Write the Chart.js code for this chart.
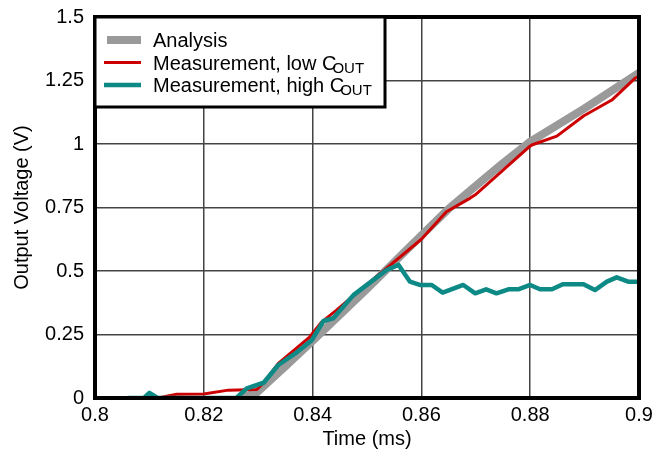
<!DOCTYPE html>
<html>
<head>
<meta charset="utf-8">
<script src="https://cdn.jsdelivr.net/npm/chart.js@4"></script>
<style>
  body { margin: 0; background: #fff; }
  #wrap { width: 663px; height: 455px; }
</style>
</head>
<body>
<div id="wrap"><canvas id="myChart" width="663" height="455"></canvas></div>
<script>
// valores
const xTicks = [0.8, 0.82, 0.84, 0.86, 0.88, 0.9];
const yTicks = [0, 0.25, 0.5, 0.75, 1, 1.25, 1.5];

const analysisT = [0.826, 0.8297, 0.835, 0.84, 0.85, 0.86, 0.865, 0.87, 0.875, 0.88, 0.89, 0.9];
const analysisV = [-0.005, 0.02, 0.125, 0.225, 0.43, 0.64, 0.745, 0.835, 0.925, 1.009, 1.14, 1.28];

const lowT = [0.8116, 0.815, 0.82, 0.8245, 0.8297, 0.831, 0.8337, 0.8395, 0.8417, 0.8444, 0.8466, 0.86, 0.8646, 0.8689, 0.8699, 0.8797, 0.8803, 0.8849, 0.8898, 0.895, 0.8993, 0.9];
const lowV = [0, 0.015, 0.016, 0.031, 0.033, 0.06, 0.136, 0.241, 0.3, 0.346, 0.386, 0.625, 0.733, 0.786, 0.8, 0.987, 0.996, 1.031, 1.11, 1.173, 1.259, 1.268];

const highT = [0.806, 0.809, 0.81, 0.8115, 0.826, 0.8279, 0.831, 0.8337, 0.8371, 0.8398, 0.842, 0.8438, 0.8475, 0.8512, 0.8536, 0.8558, 0.8579, 0.8597, 0.8619, 0.8639, 0.8677, 0.8699, 0.8719, 0.8738, 0.876, 0.8778, 0.88, 0.8818, 0.884, 0.886, 0.8898, 0.8919, 0.8941, 0.8959, 0.898, 0.9];
const highV = [0, 0, 0.02, 0, 0, 0.038, 0.06, 0.13, 0.18, 0.226, 0.303, 0.314, 0.405, 0.465, 0.504, 0.524, 0.458, 0.445, 0.445, 0.415, 0.445, 0.412, 0.428, 0.412, 0.428, 0.428, 0.445, 0.428, 0.428, 0.448, 0.448, 0.425, 0.458, 0.475, 0.458, 0.458];

const legendItems = [
  { text: 'Analysis', sub: '', color: '#9a9a9a', width: 8 },
  { text: 'Measurement, low C', sub: 'OUT', color: '#cc0000', width: 3 },
  { text: 'Measurement, high C', sub: 'OUT', color: '#0e8a86', width: 4.5 }
];

const FONT = '"Liberation Sans", Arial, sans-serif';

let puntos = (ts, vs) => ts.map((t, i) => ({ x: t, y: vs[i] }));

const marcoYLeyenda = {
  id: 'marcoYLeyenda',
  afterDatasetsDraw(chart) {
    const { ctx, chartArea: a } = chart;
    ctx.save();
    // marco
    ctx.strokeStyle = '#000';
    ctx.lineWidth = 4;
    ctx.strokeRect(a.left, a.top, a.right - a.left, a.bottom - a.top);

    // leyenda
    const bx = a.left, by = a.top, bw = 290, bh = 90;
    ctx.fillStyle = '#fff';
    ctx.fillRect(bx, by, bw, bh);
    ctx.lineWidth = 3;
    ctx.strokeRect(bx, by, bw, bh);

    legendItems.forEach((it, i) => {
      const ly = by + 23 + i * 22.5;
      ctx.strokeStyle = it.color;
      ctx.lineWidth = it.width;
      ctx.beginPath();
      ctx.moveTo(bx + (i == 0 ? 12 : 9), ly);
      ctx.lineTo(bx + 46, ly);
      ctx.stroke();

      ctx.fillStyle = '#000';
      ctx.textBaseline = 'alphabetic';
      ctx.font = `20px ${FONT}`;
      const tx = bx + 58, ty = ly + 7;
      ctx.fillText(it.text, tx, ty);
      if (it.sub) {
        const w = ctx.measureText(it.text).width;
        ctx.font = `15px ${FONT}`;
        ctx.fillText(it.sub, tx + w - 4, ty + 3);
      }
    });
    ctx.restore();
  }
};

const config = {
  type: 'line',
  data: {
    datasets: [
      {
        label: 'Analysis',
        data: puntos(analysisT, analysisV),
        borderColor: '#9a9a9a',
        borderWidth: 8,
        order: 3
      },
      {
        label: 'Measurement, low COUT',
        data: puntos(lowT, lowV),
        borderColor: '#cc0000',
        borderWidth: 3,
        order: 2
      },
      {
        label: 'Measurement, high COUT',
        data: puntos(highT, highV),
        borderColor: '#0e8a86',
        borderWidth: 4.5,
        order: 1
      }
    ]
  },
  options: {
    responsive: false,
    animation: false,
    elements: {
      point: { radius: 0 },
      line: { tension: 0, borderJoinStyle: 'round' }
    },
    layout: { padding: { top: 17, right: 24, left: 0, bottom: 0 } },
    plugins: {
      legend: { display: false },
      tooltip: { enabled: false }
    },
    scales: {
      x: {
        type: 'linear',
        min: 0.8,
        max: 0.9,
        afterBuildTicks: (s) => { s.ticks = xTicks.map(v => ({ value: v })); },
        afterFit: (s) => { s.height = 57; s.paddingLeft = 0; s.paddingRight = 0; },
        ticks: {
          color: '#000',
          font: { family: FONT, size: 20 },
          padding: 5,
          maxRotation: 0,
          autoSkip: false,
          callback: (v) => String(Math.round(v * 100) / 100)
        },
        grid: { color: '#444', lineWidth: 1.5, drawTicks: false },
        border: { display: false },
        title: {
          display: true,
          text: 'Time (ms)',
          color: '#000',
          font: { family: FONT, size: 20 },
          padding: { top: 0, bottom: 4 }
        }
      },
      y: {
        min: 0,
        max: 1.5,
        afterBuildTicks: (s) => { s.ticks = yTicks.map(v => ({ value: v })); },
        afterFit: (s) => { s.width = 95; s.paddingTop = 0; s.paddingBottom = 0; },
        ticks: {
          color: '#000',
          font: { family: FONT, size: 20 },
          padding: 11,
          autoSkip: false,
          callback: (v) => String(v)
        },
        grid: { color: '#444', lineWidth: 1.5, drawTicks: false },
        border: { display: false },
        title: {
          display: true,
          text: 'Output Voltage (V)',
          color: '#000',
          font: { family: FONT, size: 20 },
          padding: { top: 10, bottom: 0 }
        }
      }
    }
  },
  plugins: [marcoYLeyenda]
};

window.myNewChart = new Chart(document.getElementById('myChart'), config);
</script>
</body>
</html>
